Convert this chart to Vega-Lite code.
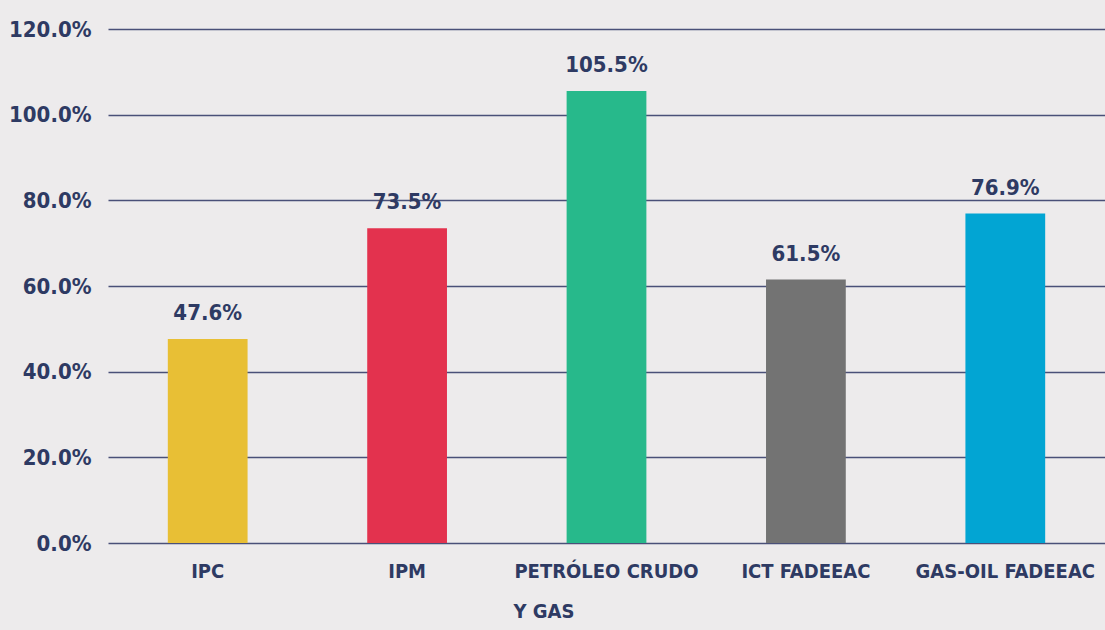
{
  "$schema": "https://vega.github.io/schema/vega-lite/v6.json",
  "width": 997,
  "height": 514,
  "autosize": {"type": "none"},
  "padding": {"left": 108, "top": 29, "right": 0, "bottom": 87},
  "background": "#EDEBEC",
  "config": {
    "view": {"stroke": null},
    "font": "DejaVu Sans Condensed"
  },
  "data": {
    "values": [
      {"cat": "IPC", "value": 0.476, "color": "#E8BF35"},
      {"cat": "IPM", "value": 0.735, "color": "#E3324E"},
      {"cat": "PETRÓLEO CRUDO|Y GAS\u00a0\u00a0\u00a0\u00a0\u00a0\u00a0\u00a0\u00a0\u00a0\u00a0\u00a0\u00a0\u00a0\u00a0\u00a0\u00a0\u00a0\u00a0\u00a0\u00a0\u200b", "value": 1.055, "color": "#27B98B"},
      {"cat": "ICT FADEEAC", "value": 0.615, "color": "#737373"},
      {"cat": "GAS-OIL FADEEAC", "value": 0.769, "color": "#02A5D3"}
    ]
  },
  "encoding": {
    "x": {
      "field": "cat",
      "type": "nominal",
      "sort": null,
      "scale": {"paddingInner": 0.6, "paddingOuter": 0.3},
      "axis": {
        "title": null,
        "labelAngle": 0,
        "labelFont": "DejaVu Sans Condensed",
        "labelFontWeight": "bold",
        "labelFontSize": 20,
        "labelColor": "#2E3A63",
        "labelPadding": 18,
        "labelLineHeight": 40,
        "labelLimit": 400,
        "labelOverlap": false,
        "labelExpr": "split(datum.label, '|')",
        "labelBaseline": "top",
        "ticks": false,
        "domain": false,
        "grid": false
      }
    },
    "y": {
      "field": "value",
      "type": "quantitative",
      "scale": {"domain": [0, 1.2], "nice": false},
      "axis": {
        "title": null,
        "values": [0, 0.2, 0.4, 0.6, 0.8, 1.0, 1.2],
        "format": ".1%",
        "labelFont": "DejaVu Sans Condensed",
        "labelFontWeight": "bold",
        "labelFontSize": 22,
        "labelColor": "#2E3A63",
        "labelPadding": 17,
        "labelLimit": 200,
        "ticks": false,
        "domain": false,
        "gridColor": "#4A5078",
        "gridWidth": 1.5,
        "gridOpacity": 1
      }
    }
  },
  "layer": [
    {
      "mark": {"type": "bar"},
      "encoding": {
        "color": {"field": "color", "type": "nominal", "scale": null}
      }
    },
    {
      "mark": {
        "type": "text",
        "baseline": "alphabetic",
        "dy": -19,
        "font": "DejaVu Sans Condensed",
        "fontWeight": "bold",
        "fontSize": 22,
        "color": "#2E3A63"
      },
      "encoding": {
        "text": {"field": "value", "type": "quantitative", "format": ".1%"}
      }
    }
  ]
}
